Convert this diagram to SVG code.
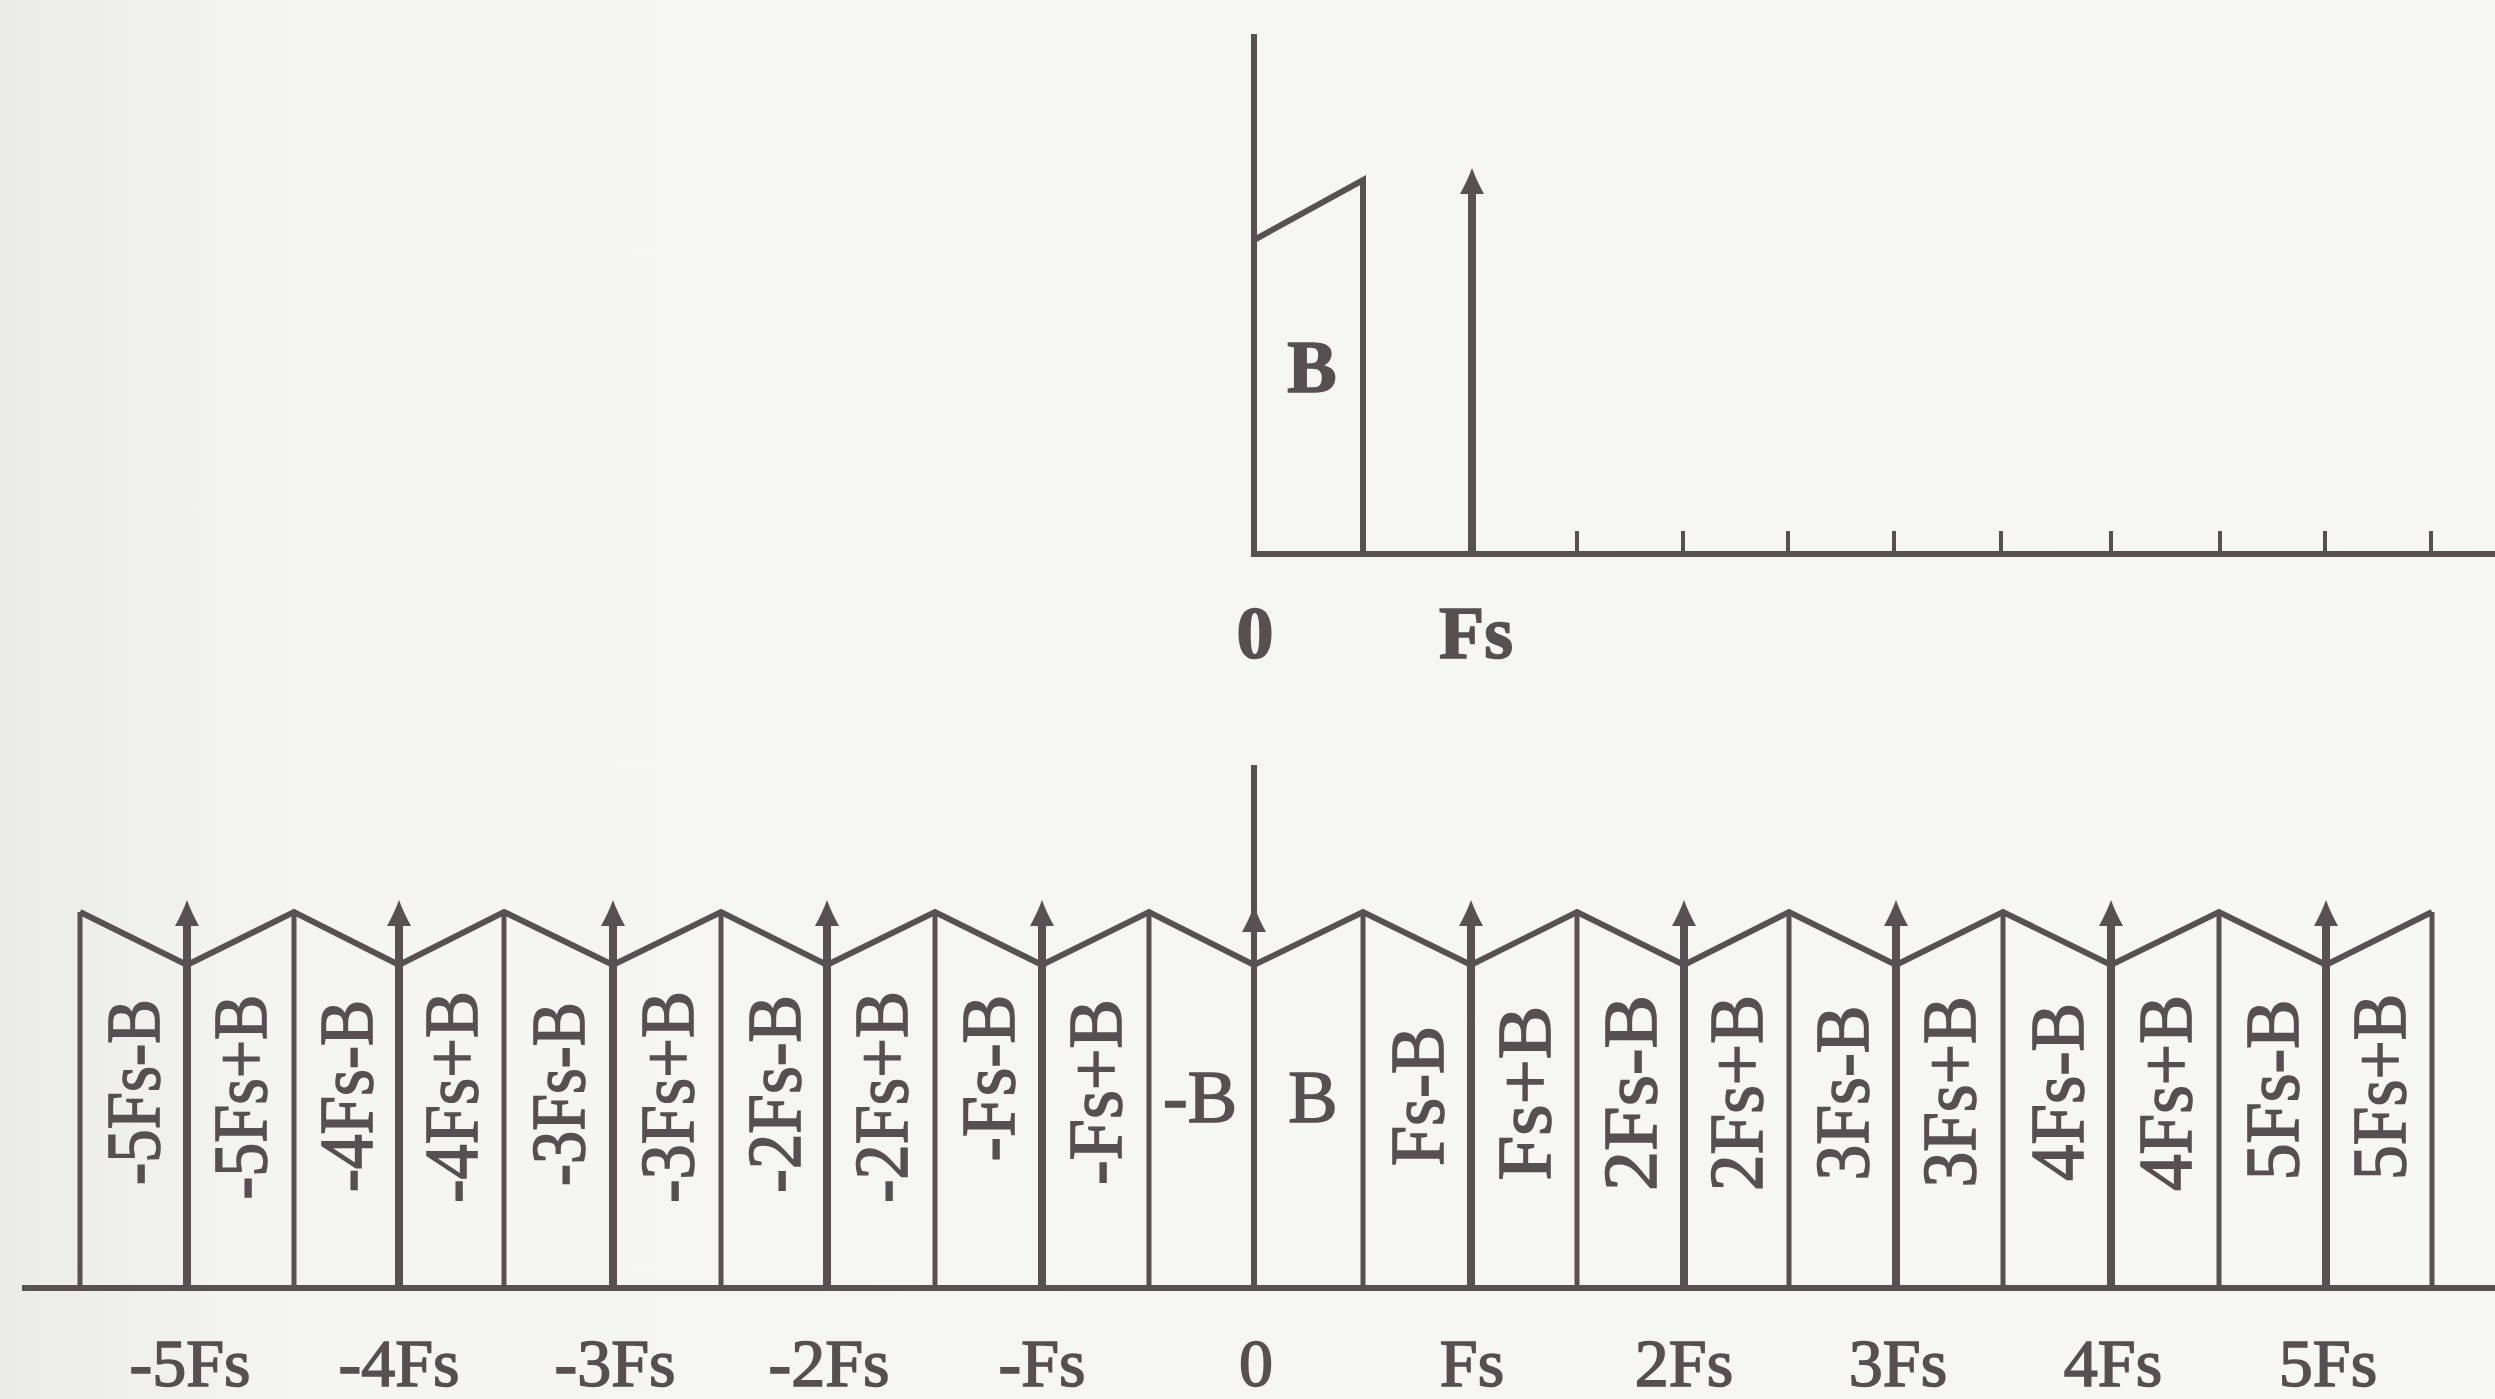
<svg xmlns="http://www.w3.org/2000/svg" width="2495" height="1399" viewBox="0 0 2495 1399">
<defs>
<linearGradient id="bg" x1="0" y1="0" x2="1" y2="0">
<stop offset="0" stop-color="#ebebe9"/>
<stop offset="0.12" stop-color="#f5f5f3"/>
<stop offset="1" stop-color="#f7f7f5"/>
</linearGradient>
<path id="ah" d="M0,0 C3,8 7,17 12,26 L-12,26 C-7,17 -3,8 0,0 Z"/>
<style>
.ln{stroke:#585052;fill:none;stroke-linecap:butt;stroke-linejoin:miter}
.ax{stroke-width:6}
.edge{stroke-width:5}
.imp{stroke-width:8}
.zig{stroke-width:6}
.head{fill:#585052}
.t{font-family:"Liberation Serif","Times New Roman",serif;fill:#574f52;stroke:#574f52;stroke-width:1.6}
.big{font-size:74px;text-anchor:middle}
.ax-lbl{font-size:68px;text-anchor:middle}
.rot{font-size:76px;text-anchor:middle}
</style>
</defs>
<rect width="2495" height="1399" fill="url(#bg)"/>

<g id="top-spectrum">
<line class="ln ax" x1="1254" y1="34" x2="1254" y2="554"/>
<line class="ln ax" x1="1251" y1="554" x2="2495" y2="554"/>
<polyline class="ln zig" points="1254,240 1363,180 1363,554"/>
<line class="ln imp" x1="1472" y1="185" x2="1472" y2="554"/>
<use href="#ah" class="head" x="1472" y="168"/>
<g id="top-ticks" class="ln" stroke-width="4">
<line x1="1577" y1="531" x2="1577" y2="554"/>
<line x1="1683" y1="531" x2="1683" y2="554"/>
<line x1="1788" y1="531" x2="1788" y2="554"/>
<line x1="1894" y1="531" x2="1894" y2="554"/>
<line x1="2001" y1="531" x2="2001" y2="554"/>
<line x1="2111" y1="531" x2="2111" y2="554"/>
<line x1="2220" y1="531" x2="2220" y2="554"/>
<line x1="2325" y1="531" x2="2325" y2="554"/>
<line x1="2431" y1="531" x2="2431" y2="554"/>
</g>
<text class="t big" x="1312" y="392" font-weight="bold">B</text>
<text class="t big" x="1255" y="658" font-weight="bold">0</text>
<text class="t big" x="1476" y="658" font-weight="bold">Fs</text>
</g>

<g id="bottom-spectrum">
<line class="ln ax" x1="22" y1="1288" x2="2495" y2="1288"/>
<line class="ln ax" x1="1254" y1="765" x2="1254" y2="1288"/>
<use href="#ah" class="head" x="1254" y="906"/>
<polyline class="ln zig" points="80,912 187,965 294,912 399,965 504,912 613,965 721,912 827,965 935,912 1042,965 1149,912 1254,965 1363,912 1471,965 1577,912 1684,965 1789,912 1896,965 2003,912 2111,965 2219,912 2326,965 2432,912"/>
<g id="band-edges" class="ln edge">
<line x1="80" y1="912" x2="80" y2="1288"/>
<line x1="294" y1="912" x2="294" y2="1288"/>
<line x1="504" y1="912" x2="504" y2="1288"/>
<line x1="721" y1="912" x2="721" y2="1288"/>
<line x1="935" y1="912" x2="935" y2="1288"/>
<line x1="1149" y1="912" x2="1149" y2="1288"/>
<line x1="1363" y1="912" x2="1363" y2="1288"/>
<line x1="1577" y1="912" x2="1577" y2="1288"/>
<line x1="1789" y1="912" x2="1789" y2="1288"/>
<line x1="2003" y1="912" x2="2003" y2="1288"/>
<line x1="2219" y1="912" x2="2219" y2="1288"/>
<line x1="2432" y1="912" x2="2432" y2="1288"/>
</g>
<g id="impulses">
<g class="ln imp">
<line x1="187" y1="918" x2="187" y2="1288"/>
<line x1="399" y1="918" x2="399" y2="1288"/>
<line x1="613" y1="918" x2="613" y2="1288"/>
<line x1="827" y1="918" x2="827" y2="1288"/>
<line x1="1042" y1="918" x2="1042" y2="1288"/>
<line x1="1471" y1="918" x2="1471" y2="1288"/>
<line x1="1684" y1="918" x2="1684" y2="1288"/>
<line x1="1896" y1="918" x2="1896" y2="1288"/>
<line x1="2111" y1="918" x2="2111" y2="1288"/>
<line x1="2326" y1="918" x2="2326" y2="1288"/>
</g>
<g class="head">
<use href="#ah" x="187" y="900"/>
<use href="#ah" x="399" y="900"/>
<use href="#ah" x="613" y="900"/>
<use href="#ah" x="827" y="900"/>
<use href="#ah" x="1042" y="900"/>
<use href="#ah" x="1471" y="900"/>
<use href="#ah" x="1684" y="900"/>
<use href="#ah" x="1896" y="900"/>
<use href="#ah" x="2111" y="900"/>
<use href="#ah" x="2326" y="900"/>
</g>
</g>
<g id="band-labels">
<text class="t rot" transform="translate(159,1092) rotate(-90)" textLength="186" lengthAdjust="spacingAndGlyphs">-5Fs-B</text>
<text class="t rot" transform="translate(266,1097) rotate(-90)" textLength="205" lengthAdjust="spacingAndGlyphs">-5Fs+B</text>
<text class="t rot" transform="translate(372,1096) rotate(-90)" textLength="192" lengthAdjust="spacingAndGlyphs">-4Fs-B</text>
<text class="t rot" transform="translate(477,1097) rotate(-90)" textLength="212" lengthAdjust="spacingAndGlyphs">-4Fs+B</text>
<text class="t rot" transform="translate(584,1094) rotate(-90)" textLength="184" lengthAdjust="spacingAndGlyphs">-3Fs-B</text>
<text class="t rot" transform="translate(693,1097) rotate(-90)" textLength="212" lengthAdjust="spacingAndGlyphs">-3Fs+B</text>
<text class="t rot" transform="translate(800,1094) rotate(-90)" textLength="198" lengthAdjust="spacingAndGlyphs">-2Fs-B</text>
<text class="t rot" transform="translate(907,1097) rotate(-90)" textLength="212" lengthAdjust="spacingAndGlyphs">-2Fs+B</text>
<text class="t rot" transform="translate(1014,1078) rotate(-90)" textLength="167" lengthAdjust="spacingAndGlyphs">-Fs-B</text>
<text class="t rot" transform="translate(1121,1092) rotate(-90)" textLength="186" lengthAdjust="spacingAndGlyphs">-Fs+B</text>
<text class="t big" x="1200" y="1122">-B</text>
<text class="t big" x="1313" y="1122">B</text>
<text class="t rot" transform="translate(1443,1096) rotate(-90)" textLength="140" lengthAdjust="spacingAndGlyphs">Fs-B</text>
<text class="t rot" transform="translate(1550,1093) rotate(-90)" textLength="175" lengthAdjust="spacingAndGlyphs">Fs+B</text>
<text class="t rot" transform="translate(1656,1093) rotate(-90)" textLength="196" lengthAdjust="spacingAndGlyphs">2Fs-B</text>
<text class="t rot" transform="translate(1762,1093) rotate(-90)" textLength="196" lengthAdjust="spacingAndGlyphs">2Fs+B</text>
<text class="t rot" transform="translate(1868,1093) rotate(-90)" textLength="175" lengthAdjust="spacingAndGlyphs">3Fs-B</text>
<text class="t rot" transform="translate(1975,1092) rotate(-90)" textLength="191" lengthAdjust="spacingAndGlyphs">3Fs+B</text>
<text class="t rot" transform="translate(2083,1092) rotate(-90)" textLength="178" lengthAdjust="spacingAndGlyphs">4Fs-B</text>
<text class="t rot" transform="translate(2191,1093) rotate(-90)" textLength="196" lengthAdjust="spacingAndGlyphs">4Fs+B</text>
<text class="t rot" transform="translate(2298,1090) rotate(-90)" textLength="181" lengthAdjust="spacingAndGlyphs">5Fs-B</text>
<text class="t rot" transform="translate(2405,1087) rotate(-90)" textLength="186" lengthAdjust="spacingAndGlyphs">5Fs+B</text>
</g>
<g id="axis-labels">
<text class="t ax-lbl" x="190" y="1386">-5Fs</text>
<text class="t ax-lbl" x="399" y="1386">-4Fs</text>
<text class="t ax-lbl" x="615" y="1386">-3Fs</text>
<text class="t ax-lbl" x="829" y="1386">-2Fs</text>
<text class="t ax-lbl" x="1042" y="1386">-Fs</text>
<text class="t ax-lbl" x="1256" y="1386">0</text>
<text class="t ax-lbl" x="1472" y="1386">Fs</text>
<text class="t ax-lbl" x="1684" y="1386">2Fs</text>
<text class="t ax-lbl" x="1898" y="1386">3Fs</text>
<text class="t ax-lbl" x="2113" y="1386">4Fs</text>
<text class="t ax-lbl" x="2328" y="1386">5Fs</text>
</g>
</g>
</svg>
